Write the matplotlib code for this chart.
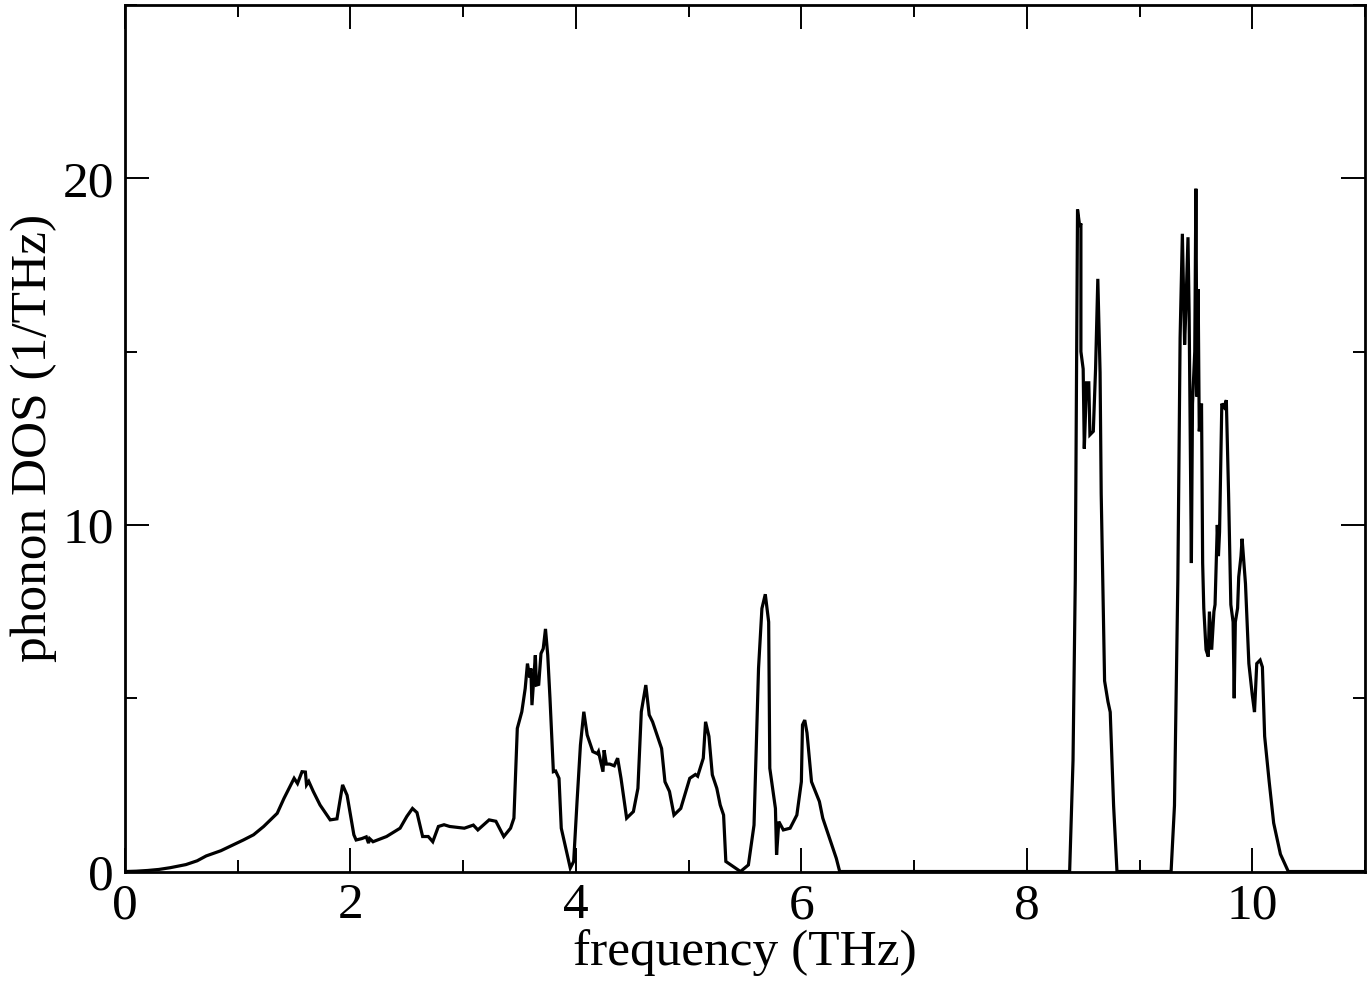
import numpy as np
import matplotlib
matplotlib.use("Agg")
import matplotlib.pyplot as plt
from matplotlib.ticker import MultipleLocator

# phonon DOS
freq_low = [0.00, 0.10, 0.20, 0.30, 0.40, 0.54, 0.64, 0.72, 0.85, 0.96, 1.05, 1.14, 1.23, 1.35, 1.41,
            1.50, 1.53, 1.57, 1.60, 1.61, 1.63, 1.67, 1.73, 1.82, 1.88,
            1.93, 1.97, 2.03, 2.05, 2.10, 2.14, 2.16, 2.17, 2.20, 2.32,
            2.44, 2.50, 2.55, 2.59, 2.64, 2.69, 2.73, 2.78, 2.83, 2.88,
            3.01, 3.09, 3.13, 3.23, 3.29, 3.36, 3.42, 3.45]
dos_low = [0.00, 0.01, 0.03, 0.06, 0.11, 0.20, 0.31, 0.45, 0.60, 0.77, 0.91, 1.06, 1.30, 1.68, 2.11,
           2.69, 2.54, 2.88, 2.87, 2.50, 2.60, 2.31, 1.92, 1.49, 1.52,
           2.50, 2.20, 1.06, 0.91, 0.95, 1.00, 0.82, 0.95, 0.86, 1.01,
           1.25, 1.59, 1.82, 1.70, 1.01, 1.01, 0.86, 1.30, 1.35, 1.30,
           1.25, 1.34, 1.20, 1.49, 1.45, 1.01, 1.25, 1.54]

freq_mid = [3.48, 3.52, 3.55, 3.57, 3.59, 3.60, 3.61, 3.64, 3.65, 3.67,
            3.69, 3.71, 3.73, 3.75, 3.77, 3.80, 3.82, 3.85, 3.87, 3.95,
            3.98, 4.01, 4.04, 4.07, 4.10, 4.15, 4.19, 4.20, 4.24, 4.25,
            4.27, 4.30, 4.34, 4.37, 4.40, 4.45, 4.51, 4.55, 4.58, 4.62,
            4.65, 4.68, 4.76, 4.79, 4.83, 4.87, 4.93, 5.01, 5.06, 5.08,
            5.13, 5.15, 5.18, 5.21, 5.25, 5.28, 5.31, 5.33, 5.46, 5.53,
            5.58, 5.62, 5.65, 5.68, 5.71, 5.72, 5.77, 5.78, 5.80, 5.84,
            5.90, 5.96, 6.00, 6.01, 6.03, 6.05, 6.09, 6.16, 6.19, 6.31,
            6.34]
dos_mid = [4.13, 4.61, 5.28, 6.00, 5.60, 5.86, 4.80, 6.24, 5.38, 5.40,
           6.29, 6.43, 7.00, 6.24, 4.99, 2.88, 2.90, 2.69, 1.25, 0.10,
           0.29, 2.02, 3.65, 4.61, 3.94, 3.46, 3.40, 3.46, 2.88, 3.50,
           3.10, 3.10, 3.05, 3.27, 2.69, 1.54, 1.73, 2.40, 4.61, 5.38,
           4.52, 4.32, 3.55, 2.59, 2.31, 1.63, 1.82, 2.69, 2.80, 2.75,
           3.27, 4.32, 3.90, 2.79, 2.40, 1.92, 1.63, 0.29, 0.00, 0.19,
           1.34, 5.86, 7.59, 8.00, 7.20, 2.98, 1.82, 0.48, 1.44, 1.20,
           1.25, 1.63, 2.59, 4.23, 4.37, 4.00, 2.59, 2.02, 1.54, 0.38,
           0.00]

freq_high1 = [8.38, 8.41, 8.43, 8.45, 8.47, 8.48, 8.48, 8.50, 8.51, 8.53,
              8.55, 8.56, 8.59, 8.61, 8.63, 8.65, 8.66, 8.69, 8.72, 8.74,
              8.77, 8.80]
dos_high1 = [0.00, 3.2, 8.4, 19.1, 18.6, 18.7, 15.0, 14.5, 12.2, 14.1,
             14.1, 12.6, 12.7, 14.5, 17.1, 14.4, 10.9, 5.5, 4.9, 4.6,
             1.9, 0.0]

freq_high2 = [9.28, 9.31, 9.34, 9.36, 9.38, 9.40, 9.41, 9.43, 9.44, 9.46,
              9.47, 9.49, 9.50, 9.51, 9.52, 9.53, 9.55, 9.56, 9.57, 9.59,
              9.61, 9.62, 9.64, 9.66, 9.67, 9.69, 9.70, 9.71, 9.73, 9.75,
              9.77, 9.79, 9.81, 9.83, 9.84, 9.85, 9.87, 9.88, 9.90, 9.91,
              9.94, 9.97, 10.00, 10.02, 10.04, 10.07, 10.09, 10.11, 10.15, 10.19,
              10.25, 10.32, 11.0]
dos_high2 = [0.0, 1.9, 8.4, 15.4, 18.4, 15.2, 16.1, 18.3, 16.1, 8.9,
             13.5, 15.0, 19.7, 13.7, 16.8, 12.7, 13.5, 8.9, 7.6, 6.4,
             6.2, 7.5, 6.4, 7.5, 7.7, 10.0, 9.1, 9.8, 13.5, 13.4,
             13.6, 10.9, 7.7, 7.2, 5.0, 7.2, 7.6, 8.5, 9.1, 9.6,
             8.3, 6.0, 5.1, 4.6, 6.0, 6.1, 5.9, 3.9, 2.6, 1.4,
             0.5, 0.0, 0.0]

freq = np.array(freq_low + freq_mid + freq_high1 + freq_high2)
dos = np.array(dos_low + dos_mid + dos_high1 + dos_high2)

plt.rcParams['font.family'] = ['Liberation Serif', 'DejaVu Serif']

fig = plt.figure(figsize=(13.71, 9.84), dpi=100)
ax = fig.add_axes([0.0912, 0.1143, 0.9044, 0.8806])

ax.plot(freq, dos, color='black', lw=2.3, solid_joinstyle='miter')

ax.set_xlim(0, 11)
ax.set_ylim(0, 25)
ax.xaxis.set_major_locator(MultipleLocator(2))
ax.xaxis.set_minor_locator(MultipleLocator(1))
ax.yaxis.set_major_locator(MultipleLocator(10))
ax.yaxis.set_minor_locator(MultipleLocator(5))
ax.tick_params(which='both', direction='in', top=True, right=True,
               labelsize=37, width=1.4)
ax.tick_params(which='major', length=17, pad=8)
ax.tick_params(which='minor', length=8.5)
for sp in ax.spines.values():
    sp.set_linewidth(2)

ax.set_xlabel('frequency (THz)', fontsize=37, labelpad=0)
ax.set_ylabel('phonon DOS (1/THz)', fontsize=37, labelpad=4)

fig.savefig('out.png', dpi=100)
